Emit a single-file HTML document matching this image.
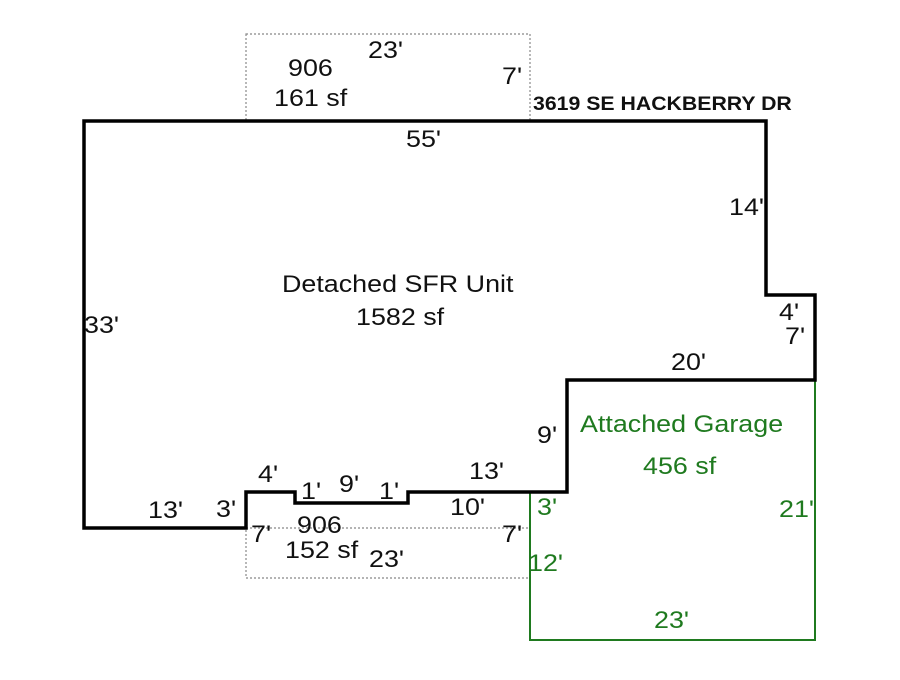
<!DOCTYPE html>
<html><head><style>body{margin:0;background:#fff}text{font-size:24px}</style></head><body>
<svg width="900" height="675" xmlns="http://www.w3.org/2000/svg" font-family="Liberation Sans, Arial, sans-serif">
<rect x="246" y="34" width="284" height="87" fill="none" stroke="#888" stroke-width="1.2" stroke-dasharray="2,2"/>
<rect x="246" y="528" width="284" height="50" fill="none" stroke="#888" stroke-width="1.2" stroke-dasharray="2,2"/>
<polyline points="567,380 815,380 815,640 530,640 530,492 567,492" fill="none" stroke="#1f7a1f" stroke-width="2"/>
<polygon points="84,121 766,121 766,295 815,295 815,380 567,380 567,492 408,492 408,503 295,503 295,492 246,492 246,528 84,528" fill="none" stroke="#000" stroke-width="3.5"/>
<g fill="#111">
<text transform="translate(288 76) scale(1.12 1)">906</text>
<text transform="translate(274 106) scale(1.12 1)">161 sf</text>
<text transform="translate(368 58) scale(1.12 1)">23'</text>
<text transform="translate(502 84) scale(1.12 1)">7'</text>
<text transform="translate(533 110) scale(1.12 1)" font-weight="bold" style="font-size:19px">3619 SE HACKBERRY DR</text>
<text transform="translate(406 147) scale(1.12 1)">55'</text>
<text transform="translate(729 215) scale(1.12 1)">14'</text>
<text transform="translate(779 320) scale(1.12 1)">4'</text>
<text transform="translate(785 344) scale(1.12 1)">7'</text>
<text transform="translate(671 370) scale(1.12 1)">20'</text>
<text transform="translate(84 333) scale(1.12 1)">33'</text>
<text transform="translate(282 292) scale(1.12 1)">Detached SFR Unit</text>
<text transform="translate(356 325) scale(1.12 1)">1582 sf</text>
<text transform="translate(537 443) scale(1.12 1)">9'</text>
<text transform="translate(148 518) scale(1.12 1)">13'</text>
<text transform="translate(216 517) scale(1.12 1)">3'</text>
<text transform="translate(258 482) scale(1.12 1)">4'</text>
<text transform="translate(301 499) scale(1.12 1)">1'</text>
<text transform="translate(339 492) scale(1.12 1)">9'</text>
<text transform="translate(379 499) scale(1.12 1)">1'</text>
<text transform="translate(469 479) scale(1.12 1)">13'</text>
<text transform="translate(450 515) scale(1.12 1)">10'</text>
<text transform="translate(251 542) scale(1.12 1)">7'</text>
<text transform="translate(297 533) scale(1.12 1)">906</text>
<text transform="translate(285 558) scale(1.12 1)">152 sf</text>
<text transform="translate(369 567) scale(1.12 1)">23'</text>
<text transform="translate(502 542) scale(1.12 1)">7'</text>
</g>
<g fill="#1f7a1f">
<text transform="translate(580 432) scale(1.12 1)">Attached Garage</text>
<text transform="translate(643 474) scale(1.12 1)">456 sf</text>
<text transform="translate(537 515) scale(1.12 1)">3'</text>
<text transform="translate(528 571) scale(1.12 1)">12'</text>
<text transform="translate(779 517) scale(1.12 1)">21'</text>
<text transform="translate(654 628) scale(1.12 1)">23'</text>
</g>
</svg>
</body></html>
